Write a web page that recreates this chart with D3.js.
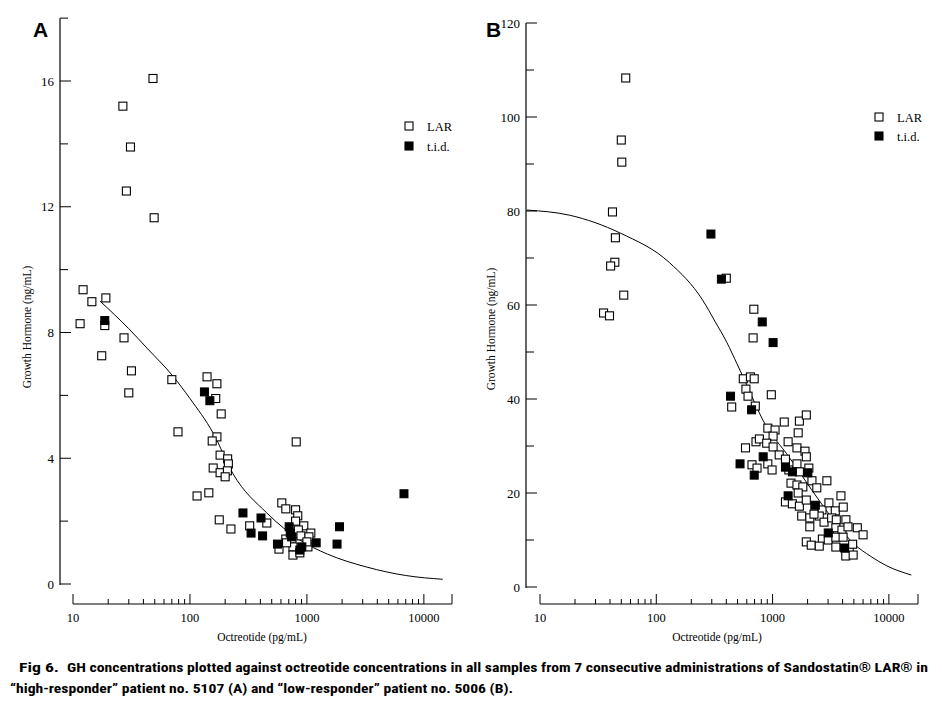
<!DOCTYPE html>
<html><head><meta charset="utf-8">
<script src="https://cdn.jsdelivr.net/npm/d3@7"></script>
<style>
body{margin:0;background:#fff;}
svg text{fill:#000;}
</style></head>
<body>
<svg id="chart" width="942" height="710"></svg>
<script>
// ---------- DATA ----------
// Panel A: patient 5107 (high responder)  [octreotide pg/mL, GH ng/mL]
const aLAR = [[48.3,16.08],[26.7,15.2],[31,13.9],[28.6,12.5],[49.4,11.65],[12.2,9.36],[14.5,8.98],[19.1,9.1],
 [11.5,8.28],[18.7,8.22],[17.6,7.26],[27.3,7.83],[31.6,6.78],[30,6.08],[70,6.5],[79,4.84],[115,2.8],[145,2.9],
 [140,6.59],[170,6.37],[166,5.9],[185,5.41],[170,4.68],[155,4.55],[181,4.1],[210,3.98],[213,3.82],[158,3.69],
 [181,3.54],[209,3.6],[200,3.41],[178,2.04],[224,1.75],[324,1.85],[454,1.94],[810,4.52],[577,1.11],[610,2.58],
 [660,2.39],[800,2.36],[835,2.17],[800,2.0],[940,1.85],[1080,1.62],[845,1.72],[890,1.53],[660,1.43],[745,1.43],
 [1040,1.5],[1020,1.18],[760,1.18],[670,1.31],[760,0.92],[870,0.99],[1000,1.34]];
const aTID = [[18.7,8.38],[133,6.11],[148,5.83],[284,2.26],[333,1.62],[405,2.1],[418,1.53],[6760,2.87],
 [1900,1.82],[1810,1.27],[1200,1.31],[560,1.27],[705,1.82],[720,1.62],[740,1.5],[905,1.18],[870,1.08]];
const aCurve = [[17,9.0],[30,8.12],[43,7.5],[72,6.6],[100,5.9],[158,4.8],[234,3.5],[454,2.26],[870,1.4],
 [1500,0.95],[3240,0.54],[7000,0.27],[14500,0.15]];

// Panel B: patient 5006 (low responder)
const bLAR = [[54.6,108.3],[50,95.1],[50.5,90.4],[42,79.8],[44.5,74.3],[44,69.1],[40.5,68.3],[52.5,62.1],[400,65.7],
 [690,59.1],[35.2,58.3],[39.6,57.7],[680,53],[560,44.3],[645,44.7],[695,44.3],[590,42.1],[615,40.6],[975,40.9],
 [445,38.3],[710,38.5],[910,33.8],[1050,33.4],[1010,32.1],[720,30.9],[770,31.5],[890,30.6],[1010,29.8],[585,29.6],
 [1260,35.1],[1700,35.3],[1950,36.6],[1660,32.8],[1360,30.9],[1620,29.6],[1900,28.9],[1950,27.7],[1140,28.1],
 [665,26.0],[735,25.3],[910,26.2],[990,24.9],[1290,27.2],[1380,24.9],[1620,26.2],[1700,24.5],[2050,25.3],
 [1440,22.1],[1620,21.7],[1820,21.3],[2180,22.6],[2400,21.1],[2930,22.6],[1660,20.0],[1290,18.1],[1480,17.7],
 [1700,17.2],[1950,18.5],[1780,15.1],[2090,14.7],[2310,17.0],[2660,16.4],[3050,17.9],[3460,16.2],[3870,19.4],
 [4050,17.0],[2520,15.1],[2270,15.5],[2770,13.8],[3220,14.7],[3530,14.3],[4270,14.3],[2090,12.8],[3080,11.1],
 [3500,12.6],[3950,12.1],[4450,12.8],[5350,12.6],[6000,11.1],[2680,10.2],[3010,10.0],[3500,10.6],[4040,10.6],
 [1950,9.6],[2150,8.9],[2520,8.7],[3500,8.5],[4560,8.1],[4880,9.1],[4260,6.6],[4930,6.8]];
const bTID = [[295,75.1],[363,65.5],[815,56.4],[1010,52],[435,40.6],[660,37.7],[830,27.7],[525,26.2],[695,23.8],
 [1290,25.5],[1480,24.5],[2010,24.3],[1360,19.4],[2330,17.4],[3010,11.5],[4160,8.3]];
const bCurve = [[7.7,80.2],[18,79.1],[49,75.3],[130,69],[251,61],[320,56.5],[405,52],[494,47.5],[600,43],
 [826,35.5],[1400,27.5],[2500,18.5],[3600,13.2],[5000,9.2],[7000,6.5],[9600,4.5],[15600,2.55]];

const xTickLabels = ["10","100","1000","10000"];
const yTicksA = [0,4,8,12,16];
const yTicksB = [0,20,40,60,80,100,120];
const legendLabels = ["LAR","t.i.d."];
const panelLetters = ["A","B"];
const yTitle = "Growth Hormone (ng/mL)";
const xTitle = "Octreotide (pg/mL)";
const caption1a = "Fig 6.";
const caption1b = "GH concentrations plotted against octreotide concentrations in all samples from 7 consecutive administrations of Sandostatin\u00AE LAR\u00AE in";
const caption2 = "\u201Chigh-responder\u201D patient no. 5107 (A) and \u201Clow-responder\u201D patient no. 5006 (B).";

// ---------- DRAW ----------
const svg = d3.select("#chart");
const serif = "'Liberation Serif','DejaVu Serif','Times New Roman',serif";

const panels = [
  {letter:panelLetters[0], lar:aLAR, tid:aTID, curve:aCurve,
   x:d3.scaleLog().domain([10,17400]).range([73,452]),
   y:d3.scaleLinear().domain([0,16]).range([584,81]),
   yTop:18, yMajor:yTicksA, yMinorStep:2, axisX:60, xAxisY:604,
   letterX:33, legendX:409, legendY:126, legendGap:20, yTitleX:27, yTitleY:327, xTitleX:262},
  {letter:panelLetters[1], lar:bLAR, tid:bTID, curve:bCurve,
   x:d3.scaleLog().domain([10,17800]).range([540,918]),
   y:d3.scaleLinear().domain([0,120]).range([587,23]),
   yTop:120, yMajor:yTicksB, yMinorStep:10, axisX:526, xAxisY:604,
   letterX:486, legendX:879, legendY:117, legendGap:19, yTitleX:491, yTitleY:329, xTitleX:717}
];

panels.forEach(p => {
  const g = svg.append("g");
  const x = p.x, y = p.y;
  g.append("line").attr("x1",p.axisX).attr("x2",p.axisX)
    .attr("y1",y(p.yTop)).attr("y2",y(0)+1).attr("stroke","#000").attr("stroke-width",1.2);
  const yAll = d3.range(0, p.yTop + 0.001, p.yMinorStep);
  yAll.forEach(v => {
    const major = p.yMajor.includes(v);
    g.append("line").attr("x1",p.axisX).attr("x2",p.axisX + (major?11:8))
      .attr("y1",y(v)).attr("y2",y(v)).attr("stroke","#000").attr("stroke-width",1);
  });
  p.yMajor.forEach(v => {
    g.append("text").attr("x",p.axisX-6).attr("y",y(v)+4.5).attr("text-anchor","end")
      .style("font-family",serif).style("font-size","13px").text(v);
  });
  const xa = d3.axisTop(x).tickSizeOuter(0).tickSize(0).tickFormat("");
  const xg = g.append("g").attr("transform",`translate(0,${p.xAxisY})`).call(xa);
  xg.selectAll(".tick").remove();
  xg.select(".domain").attr("stroke","#000").attr("stroke-width",1.2)
    .attr("d",`M${x.range()[0]},0H${x.range()[1]}`);
  const decades = [10,100,1000,10000];
  const minor = [];
  decades.forEach(d => { for (let k=2;k<=9;k++){ const v=d*k; if (v<=x.domain()[1]) minor.push(v);} });
  decades.forEach(v => {
    xg.append("line").attr("x1",x(v)).attr("x2",x(v)).attr("y1",0).attr("y2",-10).attr("stroke","#000");
  });
  minor.forEach(v => {
    xg.append("line").attr("x1",x(v)).attr("x2",x(v)).attr("y1",0).attr("y2",-5).attr("stroke","#000");
  });
  xg.append("line").attr("x1",x.range()[1]).attr("x2",x.range()[1]).attr("y1",0).attr("y2",-10).attr("stroke","#000");
  decades.forEach((v,i) => {
    g.append("text").attr("x",x(v)).attr("y",p.xAxisY+18).attr("text-anchor","middle")
      .style("font-family",serif).style("font-size","12.5px").text(xTickLabels[i]);
  });
  g.append("text").attr("x",p.xTitleX).attr("y",p.xAxisY+37).attr("text-anchor","middle")
    .style("font-family",serif).style("font-size","11.5px").text(xTitle);
  g.append("text").attr("transform",`translate(${p.yTitleX+4},${p.yTitleY}) rotate(-90)`)
    .attr("text-anchor","middle").style("font-family",serif).style("font-size","11.5px").text(yTitle);
  g.append("text").attr("x",p.letterX).attr("y",37)
    .style("font-family","'Liberation Sans',Arial,sans-serif").style("font-weight","bold").style("font-size","21px")
    .text(p.letter);
  const line = d3.line().x(d=>x(d[0])).y(d=>y(d[1])).curve(d3.curveMonotoneX);
  g.append("path").attr("d",line(p.curve)).attr("fill","none").attr("stroke","#000").attr("stroke-width",1);
  const s = 8;
  g.selectAll(".lar").data(p.lar).join("rect").attr("class","lar")
    .attr("x",d=>x(d[0])-s/2).attr("y",d=>y(d[1])-s/2).attr("width",s).attr("height",s)
    .attr("fill","#fff").attr("stroke","#000").attr("stroke-width",1.1);
  g.selectAll(".tid").data(p.tid).join("rect").attr("class","tid")
    .attr("x",d=>x(d[0])-s/2).attr("y",d=>y(d[1])-s/2).attr("width",s).attr("height",s)
    .attr("fill","#000").attr("stroke","#000").attr("stroke-width",1);
  legendLabels.forEach((lab,i) => {
    const ly = p.legendY + i*p.legendGap;
    g.append("rect").attr("x",p.legendX-4).attr("y",ly-4).attr("width",8).attr("height",8)
      .attr("fill", i===0?"#fff":"#000").attr("stroke","#000").attr("stroke-width",1.1);
    g.append("text").attr("x",p.legendX+18).attr("y",ly+4.5)
      .style("font-family",serif).style("font-size","12.5px").text(lab);
  });
});

const capFont = "'Liberation Sans Narrow','Roboto Condensed','Liberation Sans',Arial,sans-serif";
svg.append("text").attr("x",19).attr("y",672).style("font-family",capFont).style("font-weight","bold")
  .style("font-size","13px").attr("textLength",40).attr("lengthAdjust","spacingAndGlyphs").text(caption1a);
svg.append("text").attr("x",67).attr("y",672).style("font-family",capFont).style("font-weight","bold")
  .style("font-size","13px").attr("textLength",861).attr("lengthAdjust","spacingAndGlyphs").text(caption1b);
svg.append("text").attr("x",10).attr("y",693).style("font-family",capFont).style("font-weight","bold")
  .style("font-size","13px").attr("textLength",503).attr("lengthAdjust","spacingAndGlyphs").text(caption2);
</script>
</body></html>
